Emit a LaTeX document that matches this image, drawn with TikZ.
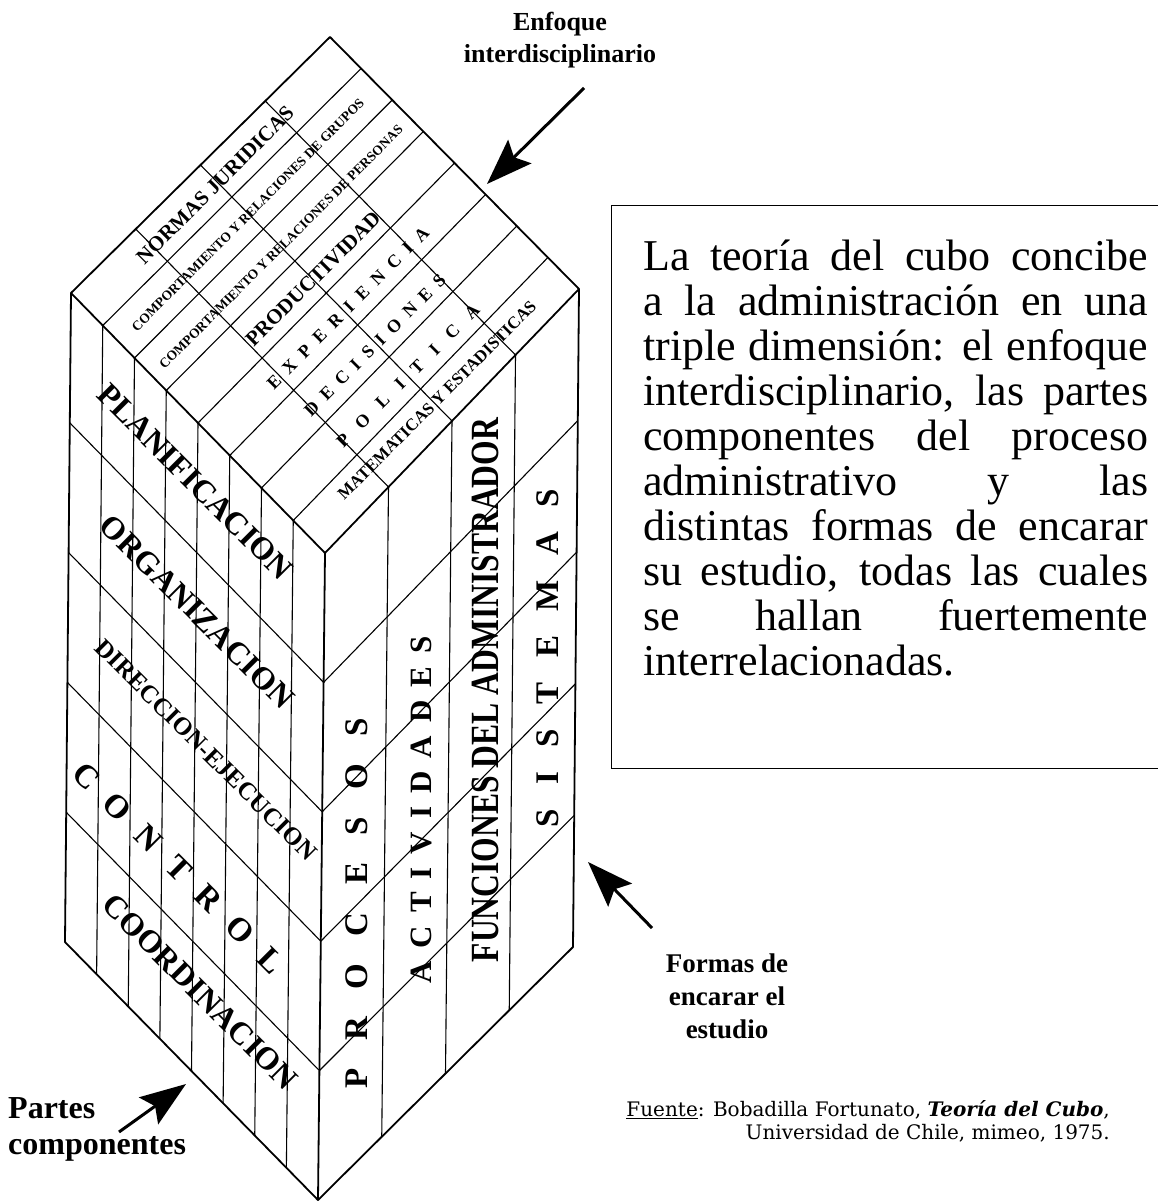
\documentclass[tikz,border=0pt]{standalone}
\usepackage{graphicx}
\usepackage{fontspec}
\setmainfont{Liberation Serif}
\newfontfamily\fuentefont{DejaVu Serif}
\usetikzlibrary{calc,arrows.meta}

\begin{document}
\begin{tikzpicture}[
	x=1pt, y=-1pt,
	borde/.style={line width=1.8pt, line join=round},
	reja/.style={line width=1.1pt},
	flecha/.style={line width=3pt, -{Stealth[length=46pt,width=33pt,inset=8pt]}},
	rotulo/.style 2 args={font=\bfseries\fontsize{#1}{#2}\selectfont, align=center},
	techo/.style={font=\bfseries\fontsize{#1}{#1}\selectfont, rotate=45},
	ladoizq/.style={font=\bfseries\fontsize{#1}{#1}\selectfont, rotate=-45},
	ladoder/.style={font=\bfseries\fontsize{#1}{#1}\selectfont, rotate=90},
	letras/.style={execute at begin node={\spaceskip=#1\relax}},
	every node/.style={inner sep=0pt}
]
\useasboundingbox (0,0) rectangle (1157,1201);

% Corners of the cube
\coordinate (L) at (71,293);
\coordinate (T) at (330,37);
\coordinate (R) at (579,289);
\coordinate (F) at (325,553);
\coordinate (Lb) at (65,942);
\coordinate (Fb) at (318,1200);
\coordinate (Rb) at (573,947);

% Top face
\foreach \i in {1,...,7}
	\draw[reja] ($(L)!\i/8!(F)$) -- ($(T)!\i/8!(R)$);
\foreach \j in {1,2,3}
	\draw[reja] ($(L)!\j/4!(T)$) -- ($(F)!\j/4!(R)$);
% Left face
\foreach \i in {1,...,7}
	\draw[reja] ($(L)!\i/8!(F)$) -- ($(Lb)!\i/8!(Fb)$);
\foreach \k in {1,...,4}
	\draw[reja] ($(L)!\k/5!(Lb)$) -- ($(F)!\k/5!(Fb)$);
% Right face
\foreach \j in {1,2,3}
	\draw[reja] ($(F)!\j/4!(R)$) -- ($(Fb)!\j/4!(Rb)$);
\foreach \k in {1,...,4}
	\draw[reja] ($(F)!\k/5!(Fb)$) -- ($(R)!\k/5!(Rb)$);
% Outline
\draw[borde] (L) -- (T) -- (R) -- (Rb) -- (Fb) -- (Lb) -- cycle;
\draw[borde] (L) -- (F) -- (R) (F) -- (Fb);

% Enfoque interdisciplinario
\node[techo=21] (normas) at (215,185) {NORMAS JURIDICAS};
\node[techo=13.5] (grupos) at (248,215) {COMPORTAMIENTO Y RELACIONES DE GRUPOS};
\node[techo=13.5] (personas) at (281,247) {COMPORTAMIENTO Y RELACIONES DE PERSONAS};
\node[techo=21] (product) at (313,279) {PRODUCTIVIDAD};
\node[techo=18, letras=9.5pt] (exper) at (348,308) {E X P E R I E N C I A};
\node[techo=18, letras=9pt] (decis) at (375,345) {D E C I S I O N E S};
\node[techo=18, letras=15pt] (polit) at (408,376) {P O L I T I C A};
\node[techo=17] (matem) at (437,400) {MATEMATICAS Y ESTADISTICAS};

% Partes componentes
\node[ladoizq=32] (planif) at (195,482) {PLANIFICACION};
\node[ladoizq=32] (organ) at (197,612) {ORGANIZACION};
\node[ladoizq=25] (direc) at (206,750) {DIRECCION-EJECUCION};
\node[ladoizq=33, letras=19.5pt] (control) at (178,868) {C O N T R O L};
\node[ladoizq=32] (coord) at (200,992) {COORDINACION};

% Formas de encarar el estudio
\node[ladoder=33, letras=27.5pt] (procesos) at (357,903) {P R O C E S O S};
\node[ladoder=31, letras=13pt] (activ) at (421,810) {A C T I V I D A D E S};
\node[ladoder=40] (funciones) at (485,690) {\scalebox{0.79}[1]{FUNCIONES DEL ADMINISTRADOR}};
\node[ladoder=33, letras=24.5pt] (sistemas) at (548,658) {S I S T E M A S};

% Text box
\node[draw, line width=1.4pt, minimum width=580pt, minimum height=563pt, anchor=north west] (marco) at (611,205) {};
\node[anchor=north west, text width=505pt, align=justify, font=\fontsize{44}{45}\selectfont] (teoria) at (643,240)
	{La teoría del cubo concibe\linebreak
	a la administración en una\linebreak
	triple dimensión: el enfoque\linebreak
	interdisciplinario, las partes\linebreak
	componentes del proceso\linebreak
	administrativo y las\linebreak
	distintas formas de encarar\linebreak
	su estudio, todas las cuales\linebreak
	se hallan fuertemente\linebreak
	interrelacionadas.};

% Labels
\node[rotulo={26}{32}] (enfoque) at (560,40) {Enfoque\\interdisciplinario};
\node[rotulo={27}{33}] (formas) at (727,996) {Formas de\\encarar el\\estudio};
\node[rotulo={32}{36}, align=left, anchor=north west] (partes) at (8,1097) {Partes\\componentes};
\node[font=\fuentefont\fontsize{20}{23}\selectfont, align=right, anchor=north east] (fuente) at (1110,1100)
	{\underline{Fuente}: Bobadilla Fortunato, \textbf{\textit{Teoría del Cubo}},\\
	Universidad de Chile, mimeo, 1975.};

% Arrows
\coordinate (enfcola) at (584,88);
\coordinate (enfpunta) at (487,184);
\coordinate (forcola) at (652,928);
\coordinate (forpunta) at (588,862);
\coordinate (parcola) at (119,1132);
\coordinate (parpunta) at (186,1084);
\draw[flecha] (enfcola) -- (enfpunta);
\draw[flecha] (forcola) -- (forpunta);
\draw[flecha] (parcola) -- (parpunta);

\end{tikzpicture}
\end{document}
